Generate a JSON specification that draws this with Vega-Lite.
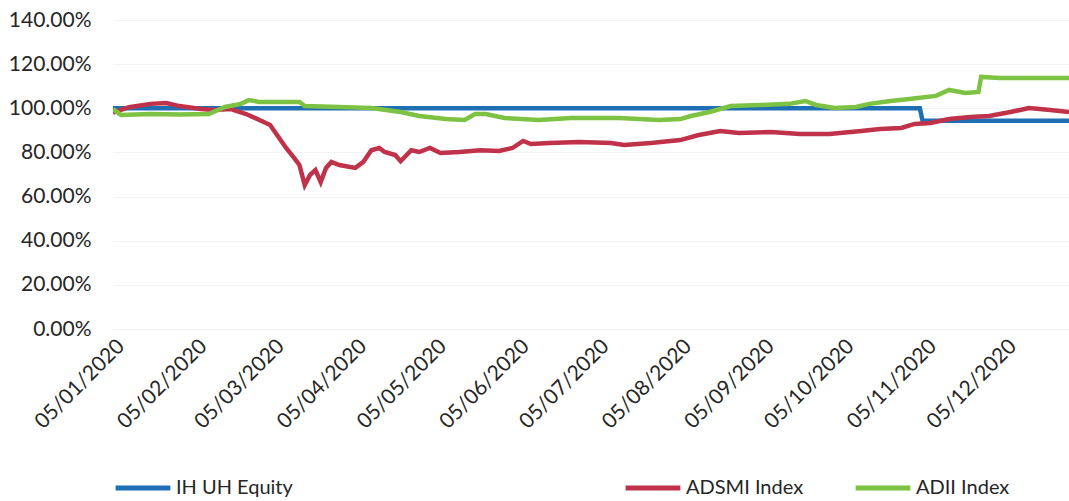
{
  "$schema": "https://vega.github.io/schema/vega-lite/v6.json",
  "autosize": {"type": "none"},
  "padding": {"left": 113, "top": 20, "right": 0, "bottom": 172},
  "width": 956,
  "height": 309,
  "background": "white",
  "config": {
    "font": "Lato",
    "view": {"stroke": null},
    "axis": {"labelFont": "Lato", "labelFontSize": 21, "labelColor": "#262626", "ticks": false, "title": null},
    "legend": {"labelFont": "Lato", "labelFontSize": 20, "labelColor": "#262626", "symbolType": "stroke", "symbolSize": 3000, "symbolStrokeWidth": 5, "labelOffset": 3, "title": null, "padding": 0}
  },
  "data": {
    "values": [
      {"date": "2020-01-05T00:00:00", "series": "IH UH Equity", "value": 1.0},
      {"date": "2020-11-03T00:00:00", "series": "IH UH Equity", "value": 1.0},
      {"date": "2020-11-04T00:00:00", "series": "IH UH Equity", "value": 0.943},
      {"date": "2020-12-29T00:00:00", "series": "IH UH Equity", "value": 0.943},

      {"date": "2020-01-05T00:00:00", "series": "ADSMI Index", "value": 0.98},
      {"date": "2020-01-11T00:00:00", "series": "ADSMI Index", "value": 1.005},
      {"date": "2020-01-19T00:00:00", "series": "ADSMI Index", "value": 1.02},
      {"date": "2020-01-25T00:00:00", "series": "ADSMI Index", "value": 1.024},
      {"date": "2020-01-30T00:00:00", "series": "ADSMI Index", "value": 1.01},
      {"date": "2020-02-07T00:00:00", "series": "ADSMI Index", "value": 0.997},
      {"date": "2020-02-12T00:00:00", "series": "ADSMI Index", "value": 0.992},
      {"date": "2020-02-18T00:00:00", "series": "ADSMI Index", "value": 0.997},
      {"date": "2020-02-24T00:00:00", "series": "ADSMI Index", "value": 0.974},
      {"date": "2020-02-29T00:00:00", "series": "ADSMI Index", "value": 0.947},
      {"date": "2020-03-04T00:00:00", "series": "ADSMI Index", "value": 0.924},
      {"date": "2020-03-10T00:00:00", "series": "ADSMI Index", "value": 0.82},
      {"date": "2020-03-13T00:00:00", "series": "ADSMI Index", "value": 0.775},
      {"date": "2020-03-15T00:00:00", "series": "ADSMI Index", "value": 0.743},
      {"date": "2020-03-17T00:00:00", "series": "ADSMI Index", "value": 0.652},
      {"date": "2020-03-19T00:00:00", "series": "ADSMI Index", "value": 0.698},
      {"date": "2020-03-21T00:00:00", "series": "ADSMI Index", "value": 0.72},
      {"date": "2020-03-23T00:00:00", "series": "ADSMI Index", "value": 0.666},
      {"date": "2020-03-25T00:00:00", "series": "ADSMI Index", "value": 0.73},
      {"date": "2020-03-27T00:00:00", "series": "ADSMI Index", "value": 0.757},
      {"date": "2020-03-30T00:00:00", "series": "ADSMI Index", "value": 0.743},
      {"date": "2020-04-05T00:00:00", "series": "ADSMI Index", "value": 0.73},
      {"date": "2020-04-08T00:00:00", "series": "ADSMI Index", "value": 0.757},
      {"date": "2020-04-11T00:00:00", "series": "ADSMI Index", "value": 0.81},
      {"date": "2020-04-14T00:00:00", "series": "ADSMI Index", "value": 0.82},
      {"date": "2020-04-16T00:00:00", "series": "ADSMI Index", "value": 0.802},
      {"date": "2020-04-20T00:00:00", "series": "ADSMI Index", "value": 0.788},
      {"date": "2020-04-22T00:00:00", "series": "ADSMI Index", "value": 0.76},
      {"date": "2020-04-26T00:00:00", "series": "ADSMI Index", "value": 0.81},
      {"date": "2020-04-29T00:00:00", "series": "ADSMI Index", "value": 0.802},
      {"date": "2020-05-03T00:00:00", "series": "ADSMI Index", "value": 0.82},
      {"date": "2020-05-07T00:00:00", "series": "ADSMI Index", "value": 0.797},
      {"date": "2020-05-14T00:00:00", "series": "ADSMI Index", "value": 0.802},
      {"date": "2020-05-22T00:00:00", "series": "ADSMI Index", "value": 0.81},
      {"date": "2020-05-29T00:00:00", "series": "ADSMI Index", "value": 0.807},
      {"date": "2020-06-03T00:00:00", "series": "ADSMI Index", "value": 0.82},
      {"date": "2020-06-07T00:00:00", "series": "ADSMI Index", "value": 0.852},
      {"date": "2020-06-10T00:00:00", "series": "ADSMI Index", "value": 0.838},
      {"date": "2020-06-17T00:00:00", "series": "ADSMI Index", "value": 0.843},
      {"date": "2020-06-28T00:00:00", "series": "ADSMI Index", "value": 0.847},
      {"date": "2020-07-10T00:00:00", "series": "ADSMI Index", "value": 0.843},
      {"date": "2020-07-15T00:00:00", "series": "ADSMI Index", "value": 0.834},
      {"date": "2020-07-25T00:00:00", "series": "ADSMI Index", "value": 0.843},
      {"date": "2020-08-05T00:00:00", "series": "ADSMI Index", "value": 0.856},
      {"date": "2020-08-12T00:00:00", "series": "ADSMI Index", "value": 0.879},
      {"date": "2020-08-20T00:00:00", "series": "ADSMI Index", "value": 0.897},
      {"date": "2020-08-27T00:00:00", "series": "ADSMI Index", "value": 0.888},
      {"date": "2020-09-08T00:00:00", "series": "ADSMI Index", "value": 0.893},
      {"date": "2020-09-19T00:00:00", "series": "ADSMI Index", "value": 0.884},
      {"date": "2020-09-30T00:00:00", "series": "ADSMI Index", "value": 0.884},
      {"date": "2020-10-12T00:00:00", "series": "ADSMI Index", "value": 0.897},
      {"date": "2020-10-19T00:00:00", "series": "ADSMI Index", "value": 0.906},
      {"date": "2020-10-27T00:00:00", "series": "ADSMI Index", "value": 0.911},
      {"date": "2020-11-01T00:00:00", "series": "ADSMI Index", "value": 0.929},
      {"date": "2020-11-07T00:00:00", "series": "ADSMI Index", "value": 0.933},
      {"date": "2020-11-14T00:00:00", "series": "ADSMI Index", "value": 0.951},
      {"date": "2020-11-22T00:00:00", "series": "ADSMI Index", "value": 0.96},
      {"date": "2020-11-29T00:00:00", "series": "ADSMI Index", "value": 0.965},
      {"date": "2020-12-07T00:00:00", "series": "ADSMI Index", "value": 0.983},
      {"date": "2020-12-14T00:00:00", "series": "ADSMI Index", "value": 1.001},
      {"date": "2020-12-22T00:00:00", "series": "ADSMI Index", "value": 0.992},
      {"date": "2020-12-29T00:00:00", "series": "ADSMI Index", "value": 0.983},

      {"date": "2020-01-05T00:00:00", "series": "ADII Index", "value": 0.997},
      {"date": "2020-01-08T00:00:00", "series": "ADII Index", "value": 0.97},
      {"date": "2020-01-19T00:00:00", "series": "ADII Index", "value": 0.974},
      {"date": "2020-01-30T00:00:00", "series": "ADII Index", "value": 0.972},
      {"date": "2020-02-10T00:00:00", "series": "ADII Index", "value": 0.974},
      {"date": "2020-02-16T00:00:00", "series": "ADII Index", "value": 1.006},
      {"date": "2020-02-22T00:00:00", "series": "ADII Index", "value": 1.02},
      {"date": "2020-02-25T00:00:00", "series": "ADII Index", "value": 1.037},
      {"date": "2020-02-29T00:00:00", "series": "ADII Index", "value": 1.029},
      {"date": "2020-03-15T00:00:00", "series": "ADII Index", "value": 1.029},
      {"date": "2020-03-17T00:00:00", "series": "ADII Index", "value": 1.01},
      {"date": "2020-03-30T00:00:00", "series": "ADII Index", "value": 1.006},
      {"date": "2020-04-11T00:00:00", "series": "ADII Index", "value": 1.001},
      {"date": "2020-04-22T00:00:00", "series": "ADII Index", "value": 0.983},
      {"date": "2020-04-29T00:00:00", "series": "ADII Index", "value": 0.965},
      {"date": "2020-05-09T00:00:00", "series": "ADII Index", "value": 0.951},
      {"date": "2020-05-16T00:00:00", "series": "ADII Index", "value": 0.947},
      {"date": "2020-05-20T00:00:00", "series": "ADII Index", "value": 0.974},
      {"date": "2020-05-24T00:00:00", "series": "ADII Index", "value": 0.974},
      {"date": "2020-05-31T00:00:00", "series": "ADII Index", "value": 0.956},
      {"date": "2020-06-13T00:00:00", "series": "ADII Index", "value": 0.947},
      {"date": "2020-06-25T00:00:00", "series": "ADII Index", "value": 0.956},
      {"date": "2020-07-13T00:00:00", "series": "ADII Index", "value": 0.956},
      {"date": "2020-07-28T00:00:00", "series": "ADII Index", "value": 0.947},
      {"date": "2020-08-05T00:00:00", "series": "ADII Index", "value": 0.951},
      {"date": "2020-08-09T00:00:00", "series": "ADII Index", "value": 0.965},
      {"date": "2020-08-16T00:00:00", "series": "ADII Index", "value": 0.983},
      {"date": "2020-08-24T00:00:00", "series": "ADII Index", "value": 1.01},
      {"date": "2020-09-04T00:00:00", "series": "ADII Index", "value": 1.015},
      {"date": "2020-09-15T00:00:00", "series": "ADII Index", "value": 1.02},
      {"date": "2020-09-21T00:00:00", "series": "ADII Index", "value": 1.033},
      {"date": "2020-09-25T00:00:00", "series": "ADII Index", "value": 1.015},
      {"date": "2020-10-02T00:00:00", "series": "ADII Index", "value": 1.001},
      {"date": "2020-10-10T00:00:00", "series": "ADII Index", "value": 1.006},
      {"date": "2020-10-15T00:00:00", "series": "ADII Index", "value": 1.02},
      {"date": "2020-10-23T00:00:00", "series": "ADII Index", "value": 1.033},
      {"date": "2020-10-30T00:00:00", "series": "ADII Index", "value": 1.042},
      {"date": "2020-11-09T00:00:00", "series": "ADII Index", "value": 1.056},
      {"date": "2020-11-14T00:00:00", "series": "ADII Index", "value": 1.083},
      {"date": "2020-11-20T00:00:00", "series": "ADII Index", "value": 1.069},
      {"date": "2020-11-25T00:00:00", "series": "ADII Index", "value": 1.074},
      {"date": "2020-11-26T00:00:00", "series": "ADII Index", "value": 1.142},
      {"date": "2020-12-03T00:00:00", "series": "ADII Index", "value": 1.137},
      {"date": "2020-12-18T00:00:00", "series": "ADII Index", "value": 1.137},
      {"date": "2020-12-29T00:00:00", "series": "ADII Index", "value": 1.137}
    ]
  },
  "encoding": {
    "x": {
      "field": "date",
      "type": "temporal",
      "scale": {"domain": [{"year": 2020, "month": 1, "date": 5}, {"year": 2020, "month": 12, "date": 29}]},
      "axis": {
        "values": [
          {"year": 2020, "month": 1, "date": 5},
          {"year": 2020, "month": 2, "date": 5},
          {"year": 2020, "month": 3, "date": 5},
          {"year": 2020, "month": 4, "date": 5},
          {"year": 2020, "month": 5, "date": 5},
          {"year": 2020, "month": 6, "date": 5},
          {"year": 2020, "month": 7, "date": 5},
          {"year": 2020, "month": 8, "date": 5},
          {"year": 2020, "month": 9, "date": 5},
          {"year": 2020, "month": 10, "date": 5},
          {"year": 2020, "month": 11, "date": 5},
          {"year": 2020, "month": 12, "date": 5}
        ],
        "format": "%d/%m/%Y",
        "labelAngle": -45,
        "labelPadding": 6,
        "grid": false,
        "domain": true,
        "domainColor": "#eeeeee",
        "labelOverlap": false,
        "labelFlush": false
      }
    },
    "y": {
      "field": "value",
      "type": "quantitative",
      "scale": {"domain": [0, 1.4]},
      "axis": {
        "values": [0, 0.2, 0.4, 0.6, 0.8, 1.0, 1.2, 1.4],
        "format": ".2%",
        "labelFontSize": 21,
        "labelPadding": 22,
        "grid": true,
        "gridColor": "#f3f3f3",
        "domain": false
      }
    }
  },
  "layer": [
    {
      "transform": [{"filter": "datum.series === 'IH UH Equity'"}],
      "mark": {"type": "line", "strokeWidth": 4.5, "clip": true},
      "encoding": {
        "color": {
          "field": "series", "type": "nominal",
          "scale": {"domain": ["IH UH Equity"], "range": ["#1F6FB5"]},
          "legend": {"orient": "none", "legendX": 0, "legendY": 438}
        }
      }
    },
    {
      "transform": [{"filter": "datum.series === 'ADSMI Index'"}],
      "mark": {"type": "line", "strokeWidth": 4.5, "clip": true},
      "encoding": {
        "color": {
          "field": "series", "type": "nominal",
          "scale": {"domain": ["ADSMI Index"], "range": ["#BF3249"]},
          "legend": {"orient": "none", "legendX": 510, "legendY": 438}
        }
      }
    },
    {
      "transform": [{"filter": "datum.series === 'ADII Index'"}],
      "mark": {"type": "line", "strokeWidth": 4.5, "clip": true},
      "encoding": {
        "color": {
          "field": "series", "type": "nominal",
          "scale": {"domain": ["ADII Index"], "range": ["#7DC242"]},
          "legend": {"orient": "none", "legendX": 740, "legendY": 438}
        }
      }
    }
  ],
  "resolve": {"scale": {"color": "independent"}}
}
